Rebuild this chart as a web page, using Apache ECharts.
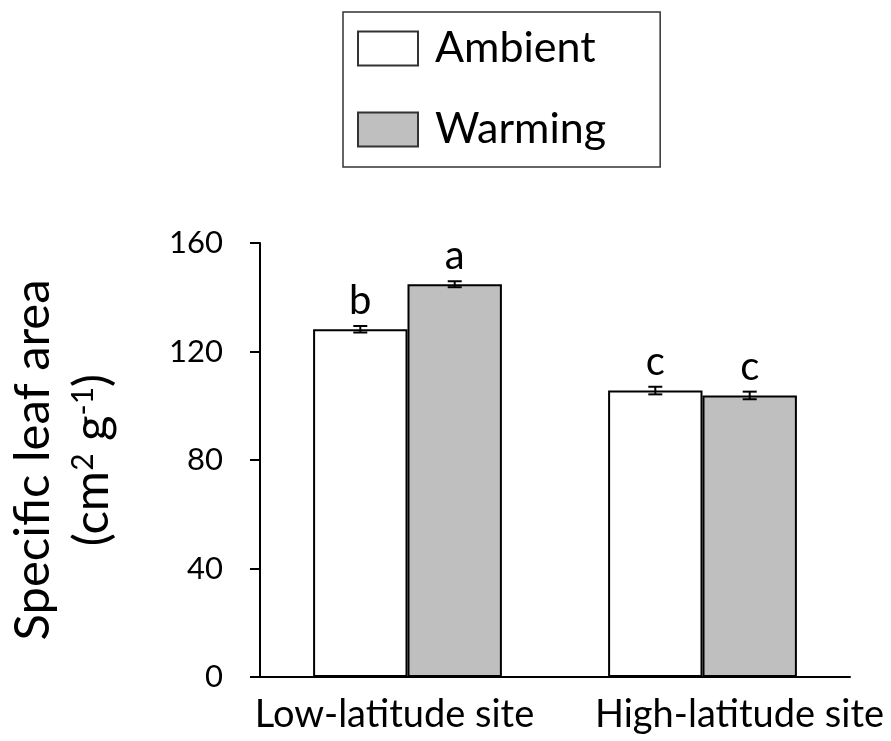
<!DOCTYPE html>
<html>
<head>
<meta charset="utf-8">
<script src="https://cdn.jsdelivr.net/npm/echarts@6/dist/echarts.min.js"></script>
<style>html,body{margin:0;padding:0;background:#fff}#c{width:891px;height:741px}</style>
</head>
<body>
<div id="c"></div>
<script>
const categories = ['Low-latitude site', 'High-latitude site'];
const seriesNames = ['Ambient', 'Warming'];
const ambientMeans = [128.2, 105.6];
const warmingMeans = [144.8, 103.8];
const ambientErr = [1.2, 1.4];
const warmingErr = [1.1, 1.4];
const ambientLetters = ['b', 'c'];
const warmingLetters = ['a', 'c'];
const yTicks = [0, 40, 80, 120, 160];

const FONT = 'Lato';
const GAP = 0.36;

function errData(means, errs, letters, s) {
  return means.map((m, i) => [i, m, errs[i], letters[i], s]);
}

function renderErr(params, api) {
  const ci = api.value(0), mean = api.value(1), err = api.value(2);
  const letter = api.value(3), s = api.value(4);
  const band = api.size([1, 0])[0];
  const barW = band * (1 - GAP) / 2;
  const dx = (s === 0 ? -barW / 2 : barW / 2);
  const top = api.coord([ci, mean + err]);
  const bot = api.coord([ci, mean - err]);
  const x = top[0] + dx;
  const cap = 7;
  const st = { stroke: '#000', lineWidth: 2 };
  return {
    type: 'group',
    children: [
      { type: 'line', shape: { x1: x, y1: top[1], x2: x, y2: bot[1] }, style: st },
      { type: 'line', shape: { x1: x - cap, y1: top[1], x2: x + cap, y2: top[1] }, style: st },
      { type: 'line', shape: { x1: x - cap, y1: bot[1], x2: x + cap, y2: bot[1] }, style: st },
      { type: 'text', x: x, y: top[1] - 5,
        style: { text: letter, fill: '#000', font: '40px ' + FONT, textAlign: 'center', textVerticalAlign: 'bottom' } }
    ]
  };
}

const chart = echarts.init(document.getElementById('c'), null, { renderer: 'canvas' });
chart.setOption({
  backgroundColor: '#fff',
  animation: false,
  textStyle: { fontFamily: FONT },
  legend: {
    orient: 'vertical',
    left: 343, top: 12,
    padding: [15, 54, 16, 14],
    borderColor: '#333', borderWidth: 1.5,
    itemWidth: 60, itemHeight: 34, itemGap: 38,
    icon: 'rect',
    data: seriesNames,
    textStyle: { fontSize: 43, color: '#000', fontFamily: FONT, padding: [0, 0, 0, 12] },
    itemStyle: { borderColor: '#333', borderWidth: 2 }
  },
  grid: { left: 260, right: 41, top: 243, bottom: 64, containLabel: false },
  xAxis: {
    type: 'category',
    data: categories,
    axisLine: { lineStyle: { color: '#000', width: 2 } },
    axisTick: { show: false },
    axisLabel: {
      interval: 0, hideOverlap: false,
      fontSize: 38, color: '#000', margin: 19, fontFamily: FONT,
      formatter: (v, i) => (i === 0 ? '{lo|' + v + '}' : '{hi|' + v + '}'),
      rich: {
        lo: { fontSize: 38, color: '#000', fontFamily: FONT, padding: [0, 26, 0, 0] },
        hi: { fontSize: 38, color: '#000', fontFamily: FONT, padding: [0, 0, 0, 74] }
      }
    }
  },
  yAxis: {
    type: 'value',
    min: yTicks[0], max: yTicks[yTicks.length - 1], interval: 40,
    axisLine: { show: true, lineStyle: { color: '#000', width: 2 } },
    axisTick: { show: true, length: 10, lineStyle: { color: '#000', width: 2 } },
    splitLine: { show: false },
    axisLabel: { fontSize: 31, color: '#000', margin: 37, fontFamily: FONT },
    name: '{a|Specific leaf area}\n{a|(cm}{s|2}{a| g}{s|-1}{a|)}',
    nameLocation: 'middle',
    nameGap: 138,
    nameRotate: 90,
    nameTextStyle: {
      rich: {
        a: { fontSize: 49, color: '#000', fontFamily: FONT, lineHeight: 59 },
        s: { fontSize: 30, color: '#000', fontFamily: FONT, lineHeight: 59, verticalAlign: 'top', padding: [5, 0, 0, 0] }
      }
    }
  },
  series: [
    { name: seriesNames[0], type: 'bar', data: ambientMeans, barGap: '0%', barCategoryGap: (GAP * 100) + '%',
      itemStyle: { color: '#ffffff', borderColor: '#000', borderWidth: 2 } },
    { name: seriesNames[1], type: 'bar', data: warmingMeans, barGap: '0%', barCategoryGap: (GAP * 100) + '%',
      itemStyle: { color: '#bfbfbf', borderColor: '#000', borderWidth: 2 } },
    { type: 'custom', renderItem: renderErr, data: errData(ambientMeans, ambientErr, ambientLetters, 0), z: 10 },
    { type: 'custom', renderItem: renderErr, data: errData(warmingMeans, warmingErr, warmingLetters, 1), z: 10 }
  ]
});
</script>
</body>
</html>
